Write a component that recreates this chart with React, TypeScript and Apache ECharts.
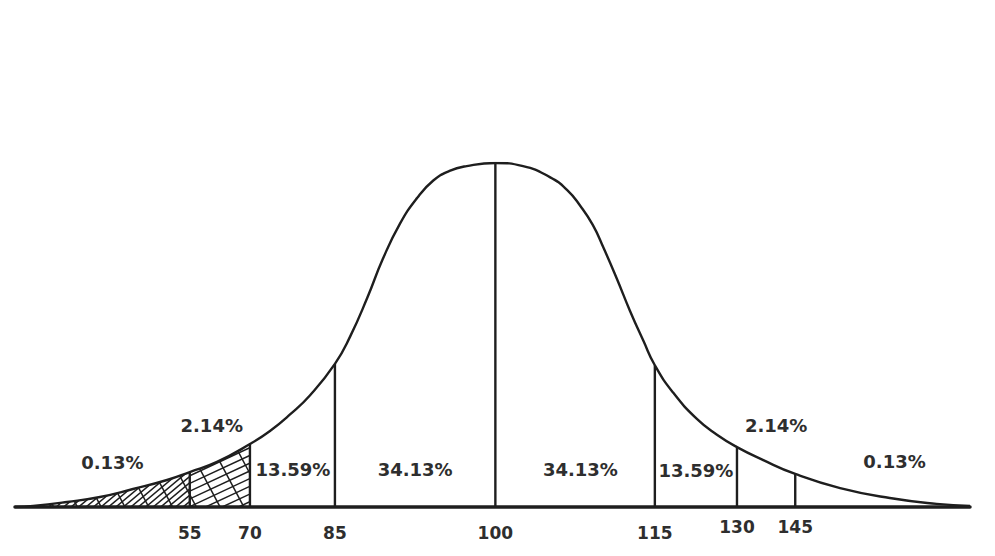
import React, { useEffect, useRef } from 'react';
import * as echarts from 'echarts';

// Score ticks and where they sit along the (hand-drawn, non-linear) baseline, 0..100
const scoreTicks = [55, 70, 85, 100, 115, 130, 145];
const tickU = [18.3, 24.6, 33.5, 50.3, 67.0, 75.6, 81.7];

// Curve: horizontal position (0..100) and height (peak = 100)
const curveU = [0, 1.9, 5.45, 8.9, 12.36, 15.92, 18.3, 21.15, 24.6, 26.7, 28.8, 30.9, 33.5, 35.1, 36.9, 38.5, 40.3, 42.1, 43.8, 45.5, 47.3, 50.3, 53.2, 56.0, 57.8, 59.2, 60.5, 61.6, 63.0, 64.4, 65.8, 67.0, 68.9, 71.4, 73.5, 75.6, 78.3, 81.7, 86.4, 91.6, 96.5, 100];
const curveH = [0, 0.29, 1.45, 2.91, 5.23, 7.85, 10.17, 13.1, 18.3, 22.1, 26.9, 32.5, 41.6, 49.6, 60.9, 72.0, 82.3, 89.8, 94.9, 97.7, 99.1, 100, 99.1, 95.9, 92.2, 87.5, 82.0, 75.5, 66.5, 57.0, 48.3, 41.2, 33.3, 25.6, 21.0, 17.4, 13.7, 9.6, 5.5, 2.6, 0.9, 0.3];

// Percent labels
const percentLabels = ['0.13%', '2.14%', '13.59%', '34.13%', '34.13%', '13.59%', '2.14%', '0.13%'];
const labelU = [10.2, 20.6, 29.1, 41.9, 59.2, 71.3, 79.7, 92.1];
const labelH = [12.8, 23.8, 10.8, 11.0, 11.0, 10.5, 23.8, 13.1];

function heightAt(u: number): number {
  for (let i = 0; i < curveU.length - 1; i++) {
    if (u >= curveU[i] && u <= curveU[i + 1]) {
      const t = (u - curveU[i]) / (curveU[i + 1] - curveU[i] || 1);
      return curveH[i] + t * (curveH[i + 1] - curveH[i]);
    }
  }
  return 0;
}

const INK = '#1e1e1e';
const TEXT = '#2e2e2e';
const FONT = '"DejaVu Sans", Verdana, sans-serif';

export default function App() {
  const ref = useRef<HTMLDivElement>(null);
  useEffect(() => {
    const chart = echarts.init(ref.current!, null, { renderer: 'svg' });

    const regions = [
      [curveU[0], tickU[0]],
      [tickU[0], tickU[1]],
      [curveU[0], tickU[1]],
    ];
    const hatchStyles = [
      { angle: -40, gap: 4.8 },
      { angle: -25, gap: 7 },
      { angle: 62, gap: 21 },
    ];

    const renderHatch = (params: any, api: any) => {
      const from = api.value(0);
      const to = api.value(1);
      const st = hatchStyles[params.dataIndex];
      const pts: number[][] = [];
      pts.push(api.coord([from, 0]));
      pts.push(api.coord([from, heightAt(from)]));
      for (let i = 0; i < curveU.length; i++) {
        if (curveU[i] > from && curveU[i] < to) pts.push(api.coord([curveU[i], curveH[i]]));
      }
      pts.push(api.coord([to, heightAt(to)]));
      pts.push(api.coord([to, 0]));
      let x0 = Infinity, x1 = -Infinity, y0 = Infinity, y1 = -Infinity;
      pts.forEach(p => {
        x0 = Math.min(x0, p[0]); x1 = Math.max(x1, p[0]);
        y0 = Math.min(y0, p[1]); y1 = Math.max(y1, p[1]);
      });
      const cx = (x0 + x1) / 2, cy = (y0 + y1) / 2;
      const R = Math.hypot(x1 - x0, y1 - y0) / 2 + 4;
      const a = (st.angle * Math.PI) / 180;
      const d = [Math.cos(a), Math.sin(a)];
      const n = [-Math.sin(a), Math.cos(a)];
      const children: any[] = [];
      for (let c = -R; c <= R; c += st.gap) {
        const px = cx + n[0] * c, py = cy + n[1] * c;
        children.push({
          type: 'line',
          shape: { x1: px - d[0] * R, y1: py - d[1] * R, x2: px + d[0] * R, y2: py + d[1] * R },
          style: { stroke: INK, lineWidth: 1.5 },
        });
      }
      return {
        type: 'group',
        clipPath: { type: 'polygon', shape: { points: pts } },
        children,
      };
    };

    const renderDivider = (params: any, api: any) => {
      const u = api.value(0);
      const h = api.value(1);
      const p0 = api.coord([u, 0]);
      const p1 = api.coord([u, h]);
      return {
        type: 'line',
        shape: { x1: p0[0], y1: p0[1], x2: p1[0], y2: p1[1] },
        style: { stroke: INK, lineWidth: 2.4 },
      };
    };

    const tickIndex = (v: number) => {
      let best = 0;
      tickU.forEach((t, i) => { if (Math.abs(t - v) < Math.abs(tickU[best] - v)) best = i; });
      return best;
    };

    chart.setOption({
      animation: false,
      backgroundColor: '#fff',
      grid: { left: 15, right: 25, top: 163, bottom: 49, containLabel: false, outerBoundsMode: 'none' },
      xAxis: {
        type: 'value',
        min: 0,
        max: 100,
        axisLine: { show: true, lineStyle: { color: INK, width: 3.5 } },
        axisTick: { show: false },
        splitLine: { show: false },
        axisLabel: {
          customValues: tickU,
          margin: 10,
          color: TEXT,
          fontFamily: FONT,
          fontWeight: 'bold',
          fontSize: 17,
          formatter: (v: number) => {
            const i = tickIndex(v);
            const tag = scoreTicks[i] >= 130 ? 'hi' : 'lo';
            return '{' + tag + '|' + scoreTicks[i] + '}';
          },
          rich: {
            lo: { padding: [7, 0, 0, 0], color: TEXT, fontFamily: FONT, fontWeight: 'bold', fontSize: 17 },
            hi: { padding: [1, 0, 6, 0], color: TEXT, fontFamily: FONT, fontWeight: 'bold', fontSize: 17 },
          },
        },
      },
      yAxis: { type: 'value', min: 0, max: 100, show: false },
      series: [
        {
          type: 'custom',
          z: 1,
          renderItem: renderHatch,
          data: regions,
          silent: true,
        },
        {
          type: 'line',
          z: 3,
          data: curveU.map((u, i) => [u, curveH[i]]),
          smooth: 0.5,
          showSymbol: false,
          lineStyle: { color: INK, width: 2.4 },
          silent: true,
        },
        {
          type: 'custom',
          z: 3,
          renderItem: renderDivider,
          data: tickU.map(u => [u, heightAt(u)]),
          silent: true,
        },
        {
          type: 'scatter',
          z: 4,
          symbolSize: 0,
          itemStyle: { opacity: 1 },
          data: percentLabels.map((t, i) => ({ name: t, value: [labelU[i], labelH[i]] })),
          label: {
            show: true,
            position: 'inside',
            formatter: (p: any) => p.name,
            color: TEXT,
            opacity: 1,
            fontFamily: FONT,
            fontWeight: 'bold',
            fontSize: 18,
          },
          silent: true,
        },
      ],
    });
    return () => chart.dispose();
  }, []);
  return (
    <div
      ref={ref}
      style={{ position: 'fixed', left: 0, top: 0, width: 995, height: 556, background: '#fff' }}
    />
  );
}
